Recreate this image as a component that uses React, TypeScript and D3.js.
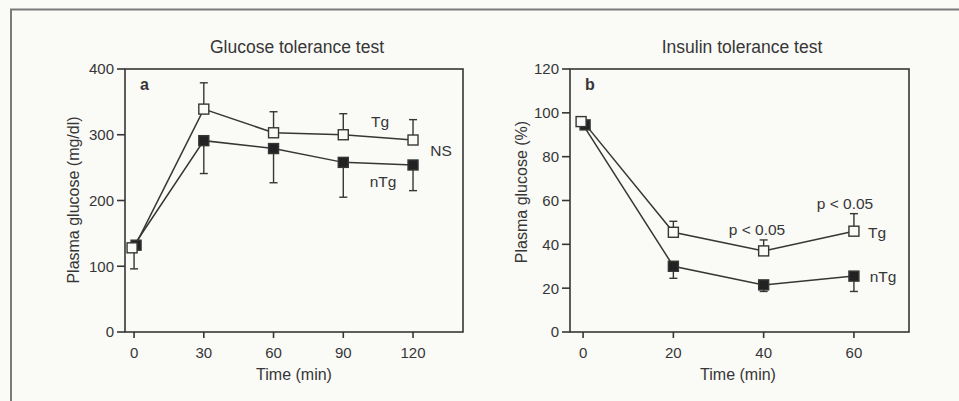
import { useEffect, useRef } from 'react';
import * as d3 from 'd3';

// Panel a: glucose tolerance test
const gttTimes = [0, 30, 60, 90, 120];
const gttTg = [128, 339, 303, 300, 292];
const gttTgErr = [-32, 40, 32, 32, 31];
const gttNTg = [132, 291, 279, 258, 254];
const gttNTgErr = [0, -50, -52, -53, -39];
const gttYTicks = [0, 100, 200, 300, 400];

// Panel b: insulin tolerance test
const ittTimes = [0, 20, 40, 60];
const ittTg = [96, 45.5, 37, 46];
const ittTgErr = [0, 5, 5, 8];
const ittNTg = [94.5, 30, 21.5, 25.5];
const ittNTgErr = [0, -5.5, -3, -7];
const ittYTicks = [0, 20, 40, 60, 80, 100, 120];

const INK = '#363636';
const PAPER = '#fafaf6';
const FONT = 'Liberation Sans, Arial, sans-serif';

interface PanelSpec {
  title: string;
  letter: string;
  yLabel: string;
  times: number[];
  tg: number[];
  tgErr: number[];
  ntg: number[];
  ntgErr: number[];
  yTicks: number[];
  xDomain: [number, number];
  yMax: number;
  left: number;
  right: number;
  titleX: number;
  xLabelX: number;
  yLabelX: number;
  yLabelY: number;
  notes: { text: string; x: number; y: number }[];
}

export default function App() {
  const svgRef = useRef<SVGSVGElement>(null);

  useEffect(() => {
    if (!svgRef.current) return;
    const svg = d3.select(svgRef.current);
    svg.selectAll('*').remove();

    svg.append('rect').attr('width', 959).attr('height', 401).attr('fill', PAPER);

    // outer figure border (top and left visible)
    svg.append('path')
      .attr('d', 'M11,401 L11,9.5 L959,9.5')
      .attr('fill', 'none')
      .attr('stroke', '#7a7a7a')
      .attr('stroke-width', 2);

    const top = 69;
    const bottom = 332;
    const box = 10;

    const drawPanel = (p: PanelSpec) => {
      const x = d3.scaleLinear().domain(p.xDomain).range([p.left, p.right]);
      const y = d3.scaleLinear().domain([0, p.yMax]).range([bottom, top]);
      const g = svg.append('g').attr('font-family', FONT).attr('fill', INK);

      g.append('rect')
        .attr('x', p.left).attr('y', top)
        .attr('width', p.right - p.left).attr('height', bottom - top)
        .attr('fill', 'none').attr('stroke', INK).attr('stroke-width', 1.6);

      // y ticks
      p.yTicks.forEach(t => {
        g.append('line')
          .attr('x1', p.left - 8).attr('x2', p.left)
          .attr('y1', y(t)).attr('y2', y(t))
          .attr('stroke', INK).attr('stroke-width', 1.6);
        g.append('text')
          .attr('x', p.left - 11).attr('y', y(t)).attr('dy', '0.36em')
          .attr('text-anchor', 'end').attr('font-size', 15)
          .text(t);
      });

      // x ticks
      p.times.forEach(t => {
        g.append('line')
          .attr('x1', x(t)).attr('x2', x(t))
          .attr('y1', bottom).attr('y2', bottom + 6)
          .attr('stroke', INK).attr('stroke-width', 1.6);
        g.append('text')
          .attr('x', x(t)).attr('y', bottom + 26)
          .attr('text-anchor', 'middle').attr('font-size', 15)
          .text(t);
      });

      g.append('text')
        .attr('x', p.xLabelX).attr('y', 380)
        .attr('text-anchor', 'middle').attr('font-size', 16)
        .text('Time (min)');

      g.append('text')
        .attr('transform', `translate(${p.yLabelX},${p.yLabelY}) rotate(-90)`)
        .attr('text-anchor', 'middle').attr('font-size', 16)
        .text(p.yLabel);

      g.append('text')
        .attr('x', p.titleX).attr('y', 53)
        .attr('text-anchor', 'middle').attr('font-size', 17.5)
        .text(p.title);

      g.append('text')
        .attr('x', p.left + 15).attr('y', top + 21)
        .attr('font-size', 16).attr('font-weight', 'bold')
        .text(p.letter);

      const line = d3.line<number>()
        .x((_, i) => x(p.times[i]))
        .y(v => y(v));

      const series = [
        { vals: p.tg, err: p.tgErr, fill: PAPER },
        { vals: p.ntg, err: p.ntgErr, fill: '#222' },
      ];

      // error bars
      series.forEach(s => {
        s.vals.forEach((v, i) => {
          if (!s.err[i]) return;
          const end = y(v + s.err[i]);
          g.append('line')
            .attr('x1', x(p.times[i])).attr('x2', x(p.times[i]))
            .attr('y1', y(v)).attr('y2', end)
            .attr('stroke', INK).attr('stroke-width', 1.4);
          g.append('line')
            .attr('x1', x(p.times[i]) - 4).attr('x2', x(p.times[i]) + 4)
            .attr('y1', end).attr('y2', end)
            .attr('stroke', INK).attr('stroke-width', 1.4);
        });
      });

      series.forEach(s => {
        g.append('path')
          .attr('d', line(s.vals) as string)
          .attr('fill', 'none').attr('stroke', INK).attr('stroke-width', 1.5);
      });

      // markers: filled drawn first so open squares sit on top at t=0
      [series[1], series[0]].forEach(s => {
        s.vals.forEach((v, i) => {
          const off = i === 0 ? (s === series[0] ? -2 : 2) : 0;
          g.append('rect')
            .attr('x', x(p.times[i]) - box / 2 + off).attr('y', y(v) - box / 2)
            .attr('width', box).attr('height', box)
            .attr('fill', s.fill).attr('stroke', INK).attr('stroke-width', 1.4);
        });
      });

      p.notes.forEach(n => {
        g.append('text')
          .attr('x', n.x).attr('y', n.y).attr('dy', '0.36em')
          .attr('text-anchor', 'middle').attr('font-size', 15.5)
          .text(n.text);
      });
    };

    drawPanel({
      title: 'Glucose tolerance test',
      letter: 'a',
      yLabel: 'Plasma glucose (mg/dl)',
      times: gttTimes,
      tg: gttTg,
      tgErr: gttTgErr,
      ntg: gttNTg,
      ntgErr: gttNTgErr,
      yTicks: gttYTicks,
      xDomain: [-3.9, 141.5],
      yMax: 400,
      left: 125,
      right: 463,
      titleX: 297,
      xLabelX: 294,
      yLabelX: 79,
      yLabelY: 200,
      notes: [
        { text: 'Tg', x: 380, y: 121 },
        { text: 'NS', x: 441, y: 150 },
        { text: 'nTg', x: 383, y: 181 },
      ],
    });

    drawPanel({
      title: 'Insulin tolerance test',
      letter: 'b',
      yLabel: 'Plasma glucose (%)',
      times: ittTimes,
      tg: ittTg,
      tgErr: ittTgErr,
      ntg: ittNTg,
      ntgErr: ittNTgErr,
      yTicks: ittYTicks,
      xDomain: [-2.9, 72.2],
      yMax: 120,
      left: 570,
      right: 909,
      titleX: 742,
      xLabelX: 738,
      yLabelX: 527,
      yLabelY: 192,
      notes: [
        { text: 'p < 0.05', x: 757, y: 229 },
        { text: 'p < 0.05', x: 845, y: 203 },
        { text: 'Tg', x: 877, y: 232 },
        { text: 'nTg', x: 883, y: 276 },
      ],
    });
  }, []);

  return (
    <svg
      ref={svgRef}
      width={959}
      height={401}
      style={{ position: 'absolute', left: 0, top: 0, display: 'block' }}
    />
  );
}
